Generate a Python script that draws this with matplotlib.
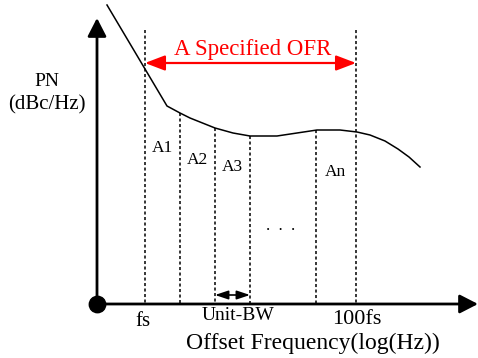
import matplotlib
matplotlib.use('Agg')
import matplotlib.pyplot as plt
from matplotlib.patches import ArrowStyle

# schematic in pixel space of the original picture (y grows downwards)
origin = (97, 304)
y_axis_top = 18
x_axis_end = 478

# phase-noise curve (x, y)
curve_x = [107, 167, 180, 190, 215, 233, 250, 277, 317, 340, 357, 370, 385, 398, 409, 420]
curve_y = [5, 106, 113, 118, 128, 133, 136, 136, 130, 130, 132, 135, 141, 149, 157, 167]

# dotted boundaries: x position and top end
bound_x = [145, 180, 215, 250, 316, 356]
bound_top = [30, 113, 128, 136, 130, 30]

# segment labels
area_labels = ['A1', 'A2', 'A3', 'An']
area_x = [162, 197, 232, 335]
area_y = [148, 160, 167, 172]

ofr_y = 63
ubw_y = 295

FONT = ['Liberation Serif', 'DejaVu Serif']
plt.rcParams['font.family'] = FONT

fig = plt.figure(figsize=(4.78, 3.58), dpi=100)
ax = fig.add_axes([0, 0, 1, 1])
ax.set_xlim(0, 478)
ax.set_ylim(358, 0)
ax.axis('off')

# axes with arrow heads
big = ArrowStyle('-|>', head_length=0.37, head_width=0.19)
ax.annotate('', xy=(origin[0], y_axis_top), xytext=origin,
            arrowprops=dict(arrowstyle=big, mutation_scale=30, lw=2, color='black',
                            shrinkA=0, shrinkB=0))
ax.annotate('', xy=(x_axis_end, origin[1]), xytext=origin,
            arrowprops=dict(arrowstyle=big, mutation_scale=30, lw=2, color='black',
                            shrinkA=0, shrinkB=0))
ax.scatter([origin[0]], [origin[1]], s=140, color='black', zorder=5)

# curve
ax.plot(curve_x, curve_y, color='black', lw=1.1)

# dotted lines
for bx, bt in zip(bound_x, bound_top):
    ax.plot([bx, bx], [bt, origin[1]], color='black', lw=1.1, linestyle=(0, (2, 1.6)))

# specified OFR arrow
red = ArrowStyle('<|-|>', head_length=0.55, head_width=0.21)
ax.annotate('', xy=(bound_x[-1], ofr_y), xytext=(bound_x[0], ofr_y),
            arrowprops=dict(arrowstyle=red, mutation_scale=22, lw=1.6, color='red',
                            shrinkA=0, shrinkB=0))
ax.text(252.5, 49, 'A Specified OFR', color='red', fontsize=16.5, ha='center', va='center')

# unit bw arrow
small = ArrowStyle('<|-|>', head_length=0.72, head_width=0.24)
ax.annotate('', xy=(bound_x[3], ubw_y), xytext=(bound_x[2], ubw_y),
            arrowprops=dict(arrowstyle=small, mutation_scale=11, lw=1.2, color='black',
                            shrinkA=0, shrinkB=0))

for lab, lx, ly in zip(area_labels, area_x, area_y):
    ax.text(lx, ly, lab, fontsize=12.5, ha='center', va='center')
ax.text(281, 226, '.  .  .', fontsize=12, ha='center', va='center')

ax.text(143, 321, 'fs', fontsize=15, ha='center', va='center')
ax.text(238, 316, 'Unit-BW', fontsize=14, ha='center', va='center')
ax.text(357, 319, '100fs', fontsize=16, ha='center', va='center')
ax.text(313, 343, 'Offset Frequency(log(Hz))', fontsize=17, ha='center', va='center')
ax.text(47, 81, 'PN', fontsize=14, ha='center', va='center')
ax.text(47, 105, '(dBc/Hz)', fontsize=15, ha='center', va='center')

fig.savefig('out.png', dpi=100)
